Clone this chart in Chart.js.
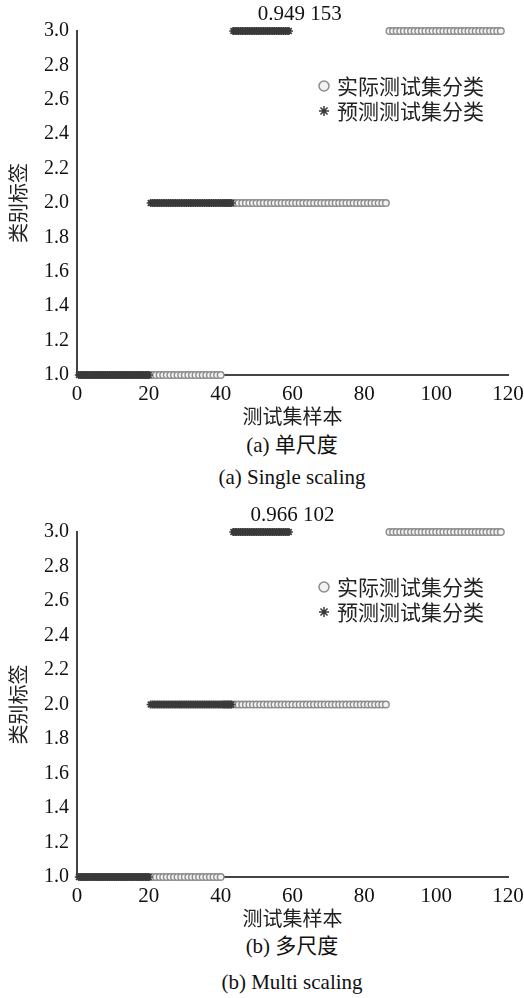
<!DOCTYPE html>
<html lang="zh">
  <head>
    <meta charset="UTF-8" />
    <title>分类结果</title>
    <script src="https://cdn.jsdelivr.net/npm/chart.js@4/dist/chart.umd.min.js"></script>
    <style>
      body { margin: 0; background: #fff; width: 524px; height: 998px; position: relative; overflow: hidden; }
      .box { position: absolute; left: 0; width: 524px; height: 426px; }
      .cap { position: absolute; left: 0; width: 584px; text-align: center; line-height: 24px; font: 21px "Liberation Serif", "Times New Roman", "Noto Sans CJK SC", serif; color: #111; }
    </style>
  </head>
  <body>
    <div class="box" style="top:0"><canvas id="chartA"></canvas></div>
    <div class="cap" style="top:428px">(a) 单尺度</div>
    <div class="cap" style="top:465px">(a) Single scaling</div>
    <div class="box" style="top:501px;height:427px"><canvas id="chartB"></canvas></div>
    <div class="cap" style="top:929px">(b) 多尺度</div>
    <div class="cap" style="top:970px">(b) Multi scaling</div>

    <script>
      // class labels and how many test samples fall in each
      var classes = [1, 2, 3];
      var actualCounts = [40, 46, 32];
      var predictedCounts = [40, 46, 32];
      var accuracyA = '0.949 153';
      var accuracyB = '0.966 102';
      var seriesNames = ['实际测试集分类', '预测测试集分类'];

      function buildPoints(counts, step) {
        var pts = [];
        var n = 0;
        for (var c = 0; c < classes.length; c++) {
          for (var k = 0; k < counts[c]; k++) {
            n++;
            pts.push({ x: n * step, y: classes[c] });
          }
        }
        return pts;
      }

      var serif = '"Liberation Serif", "Times New Roman", serif';
      var cjk = '"Noto Sans CJK SC", sans-serif';

      var extras = {
        id: 'extras',
        afterDatasetsDraw: function (chart) {
          var ctx = chart.ctx;
          var xs = chart.scales.x;
          var opts = chart.options.plugins.extras;
          ctx.save();
          // accuracy note above the plot
          ctx.fillStyle = '#111';
          ctx.font = '21px ' + serif;
          ctx.textAlign = 'center';
          ctx.textBaseline = 'middle';
          ctx.fillText(opts.note, xs.getPixelForValue(opts.noteAt), 14);
          // legend inside plot
          var lx = 324, ly = 86;
          [chart.data.datasets[1], chart.data.datasets[0]].forEach(function (ds, i) {
            var y = ly + i * 25;
            ctx.strokeStyle = ds.borderColor;
            ctx.fillStyle = ds.backgroundColor;
            ctx.lineWidth = 1.5;
            Chart.helpers.drawPoint(ctx, { pointStyle: ds.pointStyle, radius: 5, borderWidth: 1.5 }, lx, y);
            ctx.fillStyle = '#222';
            ctx.font = '21px ' + cjk;
            ctx.textAlign = 'left';
            ctx.fillText(ds.label, lx + 13, y);
          });
          ctx.restore();
        }
      };

      function makeChart(id, note, noteAt) {
        return new Chart(document.getElementById(id), {
          type: 'scatter',
          data: {
            datasets: [
              {
                label: seriesNames[1],
                data: buildPoints(predictedCounts, 0.5),
                pointStyle: 'star',
                pointRadius: 4,
                borderColor: '#3a3a3a',
                backgroundColor: '#3a3a3a',
                borderWidth: 1.6,
                clip: false,
              },
              {
                label: seriesNames[0],
                data: buildPoints(actualCounts, 1),
                pointStyle: 'circle',
                pointRadius: 3.3,
                borderColor: '#8c8c8c',
                backgroundColor: '#f2f2f2',
                borderWidth: 1.4,
                clip: false,
              },
            ],
          },
          options: {
            responsive: true,
            maintainAspectRatio: false,
            animation: false,
            layout: { padding: { top: 31, right: 0, left: 6, bottom: 0 } },
            plugins: {
              legend: { display: false },
              tooltip: { enabled: false },
              extras: { note: note, noteAt: noteAt },
            },
            scales: {
              x: {
                type: 'linear',
                min: 0,
                max: 120,
                grid: { display: false, drawTicks: false },
                border: { display: true, color: '#444', width: 2 },
                ticks: { stepSize: 20, color: '#111', font: { family: serif, size: 21, lineHeight: 1 }, padding: 9 },
                title: { display: true, text: '测试集样本', color: '#222', font: { family: cjk, size: 20, lineHeight: 1 }, padding: { top: -8, bottom: 0 } },
                afterFit: function (scale) { scale.paddingRight = 16; },
              },
              y: {
                min: 1,
                max: 3,
                grid: { display: false, drawTicks: false },
                border: { display: true, color: '#444', width: 2 },
                ticks: {
                  stepSize: 0.2,
                  color: '#111',
                  font: { family: serif, size: 20 },
                  padding: 8,
                  callback: function (v) { return v.toFixed(1); },
                },
                title: { display: true, text: '类别标签', color: '#222', font: { family: cjk, size: 20 }, padding: { top: 0, bottom: 6 } },
              },
            },
          },
          plugins: [extras],
        });
      }

      makeChart('chartA', accuracyA, 62);
      makeChart('chartB', accuracyB, 60);
    </script>
  </body>
</html>
